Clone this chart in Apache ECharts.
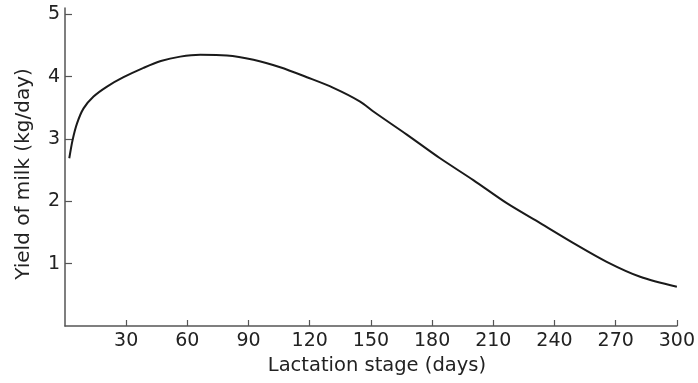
<!DOCTYPE html>
<html lang="en" style="height: 100%">
<head>
  <meta charset="utf-8" />
</head>
<body style="height: 100%; margin: 0; background: #fff">
  <div id="container" style="width: 698px; height: 383px"></div>
  <script src="https://cdn.jsdelivr.net/npm/echarts@6/dist/echarts.min.js"></script>
  <script>
    // lactation curve
    var days = [2.1, 3.7, 5.9, 9.1, 14, 20.6, 28.7, 38.5, 47, 56.5, 66.3, 79.4, 92.4, 105.5, 118.6, 131.6, 144.7, 151.2, 167.6, 183.9, 200.2, 216.6, 233, 249.3, 265.6, 282, 300];
    var yieldKg = [2.69, 2.98, 3.25, 3.49, 3.68, 3.84, 3.99, 4.14, 4.25, 4.32, 4.35, 4.34, 4.27, 4.15, 3.99, 3.82, 3.60, 3.44, 3.07, 2.69, 2.34, 1.97, 1.65, 1.33, 1.03, 0.79, 0.63];
    var xTicks = [30, 60, 90, 120, 150, 180, 210, 240, 270, 300];
    var yTicks = [1, 2, 3, 4, 5];

    var points = days.map(function (d, i) { return [d, yieldKg[i]]; });

    var font = "DejaVu Sans";
    var axisCol = "#555";
    var txtCol = "#222";
    var chart = echarts.init(document.getElementById("container"), null, { renderer: "canvas" });

    var option = {
      animation: false,
      grid: { left: 65, right: 21, top: 8, bottom: 57 },
      xAxis: {
        type: "value",
        min: 0,
        max: 300,
        name: "Lactation stage (days)",
        nameLocation: "middle",
        nameGap: 30,
        nameTextStyle: { fontFamily: font, fontSize: 19.5, color: txtCol, padding: [0, 0, 0, 12] },
        axisLine: { show: true, lineStyle: { color: axisCol, width: 1.5 } },
        axisTick: { show: true, inside: true, length: 6, customValues: xTicks, lineStyle: { color: axisCol, width: 1.2 } },
        axisLabel: { customValues: xTicks, margin: 6, fontFamily: font, fontSize: 19, color: txtCol },
        splitLine: { show: false }
      },
      yAxis: {
        type: "value",
        min: 0,
        max: 5.1,
        name: "Yield of milk (kg/day)",
        nameLocation: "middle",
        nameGap: 31,
        nameRotate: 90,
        nameTextStyle: { fontFamily: font, fontSize: 20, color: txtCol, padding: [0, 14, 0, 0] },
        axisLine: { show: true, lineStyle: { color: axisCol, width: 1.5 } },
        axisTick: { show: true, inside: true, length: 7, customValues: yTicks, lineStyle: { color: axisCol, width: 1.2 } },
        axisLabel: { customValues: yTicks, margin: 5, fontFamily: font, fontSize: 19, color: txtCol },
        splitLine: { show: false }
      },
      series: [
        {
          type: "line",
          data: points,
          smooth: 0.3,
          showSymbol: false,
          lineStyle: { color: "#1a1a1a", width: 2 }
        }
      ]
    };

    chart.setOption(option);
  </script>
</body>
</html>
